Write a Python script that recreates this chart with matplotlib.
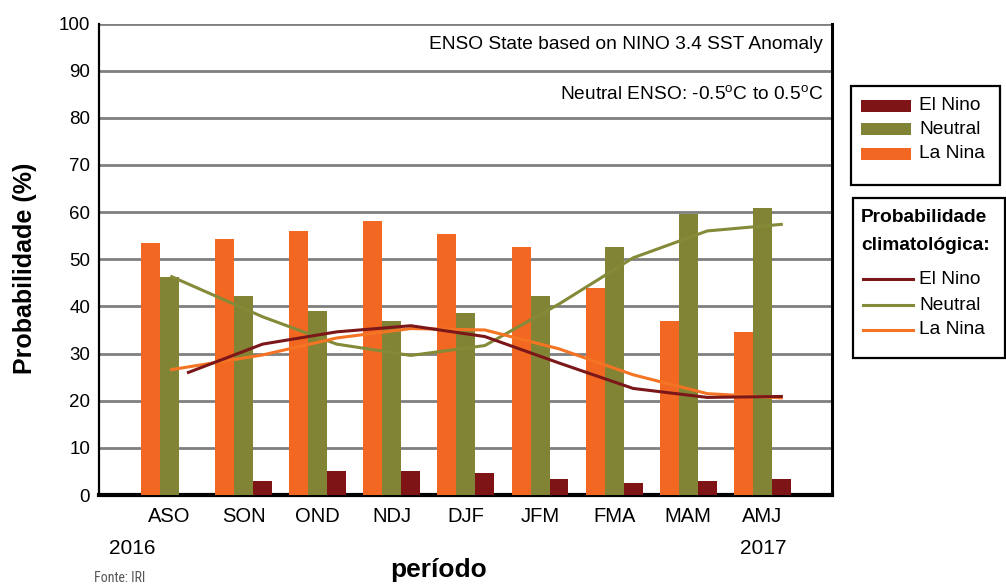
import numpy as np
import matplotlib.pyplot as plt
from matplotlib.patches import Rectangle

plt.rcParams['font.family'] = ['Liberation Sans', 'DejaVu Sans']
plt.rcParams['mathtext.fontset'] = 'custom'
plt.rcParams['mathtext.rm'] = 'Liberation Sans'

# ── data: IRI ENSO forecast, probabilities in % ───────────────────────────
seasons = ['ASO', 'SON', 'OND', 'NDJ', 'DJF', 'JFM', 'FMA', 'MAM', 'AMJ']
la_nina = [53.4, 54.2, 55.9, 58.2, 55.3, 52.5, 44.0, 37.0, 34.5]
neutral = [46.2, 42.1, 39.1, 37.0, 38.5, 42.1, 52.5, 59.5, 60.8]
el_nino = [0.0, 2.9, 5.0, 5.0, 4.6, 3.3, 2.5, 2.9, 3.3]

# climatological probabilities
clim_el_nino = [26.0, 32.0, 34.6, 35.9, 33.6, 28.0, 22.6, 20.7, 20.9]
clim_neutral = [46.3, 37.8, 32.0, 29.6, 31.7, 40.5, 50.3, 56.0, 57.4]
clim_la_nina = [26.6, 29.7, 33.3, 35.3, 35.0, 31.0, 25.5, 21.5, 20.6]

series_names = ['El Nino', 'Neutral', 'La Nina']

# colours
C_NINO = '#7f1416'
C_NEUT = '#828435'
C_NINA = '#f26822'
C_NINO_LINE = '#7b1719'
C_NEUT_LINE = '#858a38'
C_NINA_LINE = '#f47424'

NARROW = ['Liberation Sans Narrow', 'Roboto Condensed', 'Liberation Sans']

W, H = 1006, 587
fig = plt.figure(figsize=(W / 100, H / 100), dpi=100)
ax = fig.add_axes([98.5 / W, 92 / H, (832 - 98.5) / W, 471.5 / H])

x = np.arange(len(seasons))
w = 0.256
ax.bar(x - w, la_nina, w, color=C_NINA, zorder=3)
ax.bar(x, neutral, w, color=C_NEUT, zorder=3)
ax.bar(x + w, el_nino, w, color=C_NINO, zorder=3)

# climatology lines sit on the El Nino bar position; Neutral / La Nina start at the group centre
line_x = x + w
start_x = line_x.copy()
start_x[0] = x[0] + 0.03
ax.plot(start_x, clim_neutral, color=C_NEUT_LINE, lw=2.2, zorder=4)
ax.plot(start_x, clim_la_nina, color=C_NINA_LINE, lw=2.2, zorder=4)
ax.plot(line_x, clim_el_nino, color=C_NINO_LINE, lw=2.2, zorder=5)

ax.set_xlim(-0.958, 8.94)
ax.set_ylim(0, 100)
ax.set_yticks(range(0, 101, 10))
ax.set_xticks(x)
ax.set_xticklabels(seasons, fontsize=14.5)
ax.tick_params(axis='both', length=0)
ax.tick_params(axis='y', labelsize=13.5, pad=6)
ax.tick_params(axis='x', pad=9)

ax.yaxis.grid(True, color='#7f7f7f', lw=2)
ax.set_axisbelow(True)

ax.spines['top'].set_visible(False)
ax.spines['left'].set_linewidth(1.6)
ax.spines['right'].set_linewidth(2.2)
ax.spines['bottom'].set_linewidth(3)
for s in ('left', 'right', 'bottom'):
    ax.spines[s].set_color('black')

ax.text(0.988, 0.955, 'ENSO State based on NINO 3.4 SST Anomaly',
        transform=ax.transAxes, ha='right', va='center', fontsize=13.8)
ax.text(0.988, 0.849, r'Neutral ENSO: -0.5$^{\rm o}$C to 0.5$^{\rm o}$C',
        transform=ax.transAxes, ha='right', va='center', fontsize=13.8)

# axis titles and footnotes
fig.text(25 / W, 1 - 268 / H, 'Probabilidade (%)', rotation=90, ha='center', va='center',
         fontsize=18, fontweight='bold')
fig.text(439 / W, 1 - 570 / H, 'período', ha='center', va='center', fontsize=19, fontweight='bold')
fig.text(132 / W, 1 - 549 / H, '2016', ha='center', va='center', fontsize=15)
fig.text(763 / W, 1 - 549 / H, '2017', ha='center', va='center', fontsize=15)
fig.text(94 / W, 1 - 578 / H, 'Fonte: IRI', ha='left', va='center', fontsize=10, color='#555555',
         family=NARROW)

# ── legends, laid out in pixel space ─────────────────────────────────────
ov = fig.add_axes([0, 0, 1, 1], zorder=10)
ov.set_xlim(0, W)
ov.set_ylim(H, 0)
ov.axis('off')

ov.add_patch(Rectangle((851, 86), 149, 99, fill=False, ec='black', lw=1.6))
for name, col, yc in zip(series_names, [C_NINO, C_NEUT, C_NINA], [106, 129, 154]):
    ov.add_patch(Rectangle((861, yc - 6.3), 50, 12.6, color=col, lw=0))
    ov.text(919, yc, name, va='center', ha='left', fontsize=13.8)

ov.add_patch(Rectangle((853, 198), 152, 160, fill=False, ec='black', lw=1.6))
ov.text(861, 218, 'Probabilidade', va='center', ha='left', fontsize=13.8, fontweight='bold')
ov.text(861, 246, 'climatológica:', va='center', ha='left', fontsize=13.8, fontweight='bold')
for name, col, yc in zip(series_names, [C_NINO_LINE, C_NEUT_LINE, C_NINA_LINE], [279, 305, 330]):
    ov.plot([863, 913], [yc, yc], color=col, lw=2.2)
    ov.text(919, yc, name, va='center', ha='left', fontsize=13.8)

fig.savefig('out.png', dpi=100)
